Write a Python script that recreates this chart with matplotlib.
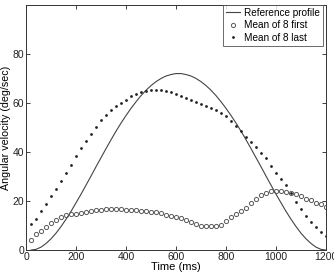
import matplotlib
matplotlib.use('Agg')
import matplotlib.pyplot as plt

plt.rcParams['font.family'] = ['Liberation Sans', 'DejaVu Sans']

# time axis (ms), one sample every 20 ms
time_ms = list(range(20, 1201, 20))

# reference (minimum jerk like) profile
reference = [0.0, 0.3, 1.2, 2.7, 4.6, 6.9, 9.6, 12.6, 15.8, 19.3,
             22.8, 26.5, 30.2, 34.0, 37.7, 41.4, 45.0, 48.5, 51.8, 54.9,
             57.8, 60.5, 63.0, 65.2, 67.1, 68.7, 70.0, 71.0, 71.6, 72.0,
             72.0, 71.6, 71.0, 70.0, 68.7, 67.1, 65.2, 63.0, 60.5, 57.8,
             54.9, 51.8, 48.5, 45.0, 41.4, 37.7, 34.0, 30.2, 26.5, 22.8,
             19.3, 15.8, 12.6, 9.6, 6.9, 4.6, 2.7, 1.2, 0.3, 0.0]

# mean of the first 8 trials (open circles)
mean_first = [4.2, 6.4, 7.9, 9.4, 11.0, 12.2, 13.6, 14.5, 14.8, 14.9,
              15.1, 15.4, 15.9, 16.3, 16.5, 16.7, 16.7, 16.7, 16.7, 16.5,
              16.5, 16.4, 16.1, 16.0, 15.7, 15.4, 15.0, 14.5, 14.0, 13.5,
              12.9, 12.2, 11.4, 10.6, 10.0, 9.9, 9.9, 9.8, 10.3, 11.7,
              13.3, 14.6, 15.8, 17.2, 19.0, 20.7, 22.4, 23.3, 24.0, 24.1,
              24.0, 23.6, 23.3, 22.8, 22.0, 21.0, 20.3, 19.4, 18.7, 17.6]

# mean of the last 8 trials (filled dots)
mean_last = [10.7, 12.7, 16.1, 18.9, 21.9, 25.1, 28.3, 31.6, 34.9, 38.2,
             41.5, 44.4, 47.5, 50.3, 52.9, 55.2, 57.0, 58.6, 60.1, 61.4,
             62.8, 63.7, 64.4, 65.0, 65.1, 65.1, 65.2, 65.0, 64.3, 63.6,
             62.9, 62.1, 61.4, 60.5, 59.7, 58.7, 57.9, 57.1, 55.9, 54.8,
             52.8, 50.8, 48.5, 46.1, 43.9, 41.9, 39.7, 37.4, 34.4, 31.6,
             28.8, 26.4, 23.3, 19.7, 16.7, 14.0, 11.3, 9.5, 7.5, 5.6]

xticks = [0, 200, 400, 600, 800, 1000, 1200]
yticks = [0, 20, 40, 60, 80]

fig = plt.figure(figsize=(3.34, 2.73), dpi=100)
ax = fig.add_axes([0.078, 0.084, 0.898, 0.898])

ax.plot(time_ms, reference, '-', color='#444444', linewidth=0.8, label='Reference profile')
ax.plot(time_ms, mean_first, 'o', markersize=3.0, markerfacecolor='none',
        markeredgecolor='#5a5a5a', markeredgewidth=0.7, label='Mean of 8 first')
ax.plot(time_ms, mean_last, 'o', markersize=2.0, color='#222222',
        markeredgewidth=0, label='Mean of 8 last')

ax.set_xlim(0, 1200)
ax.set_ylim(0, 100)
ax.set_xticks(xticks)
ax.set_yticks(yticks)
ax.tick_params(direction='in', top=True, right=True, length=3, width=0.6,
               labelsize=7.5, pad=1.5, colors='#222222')
for s in ax.spines.values():
    s.set_linewidth(0.7)
    s.set_color('#333333')

ax.set_xlabel('Time (ms)', fontsize=8, labelpad=0)
ax.set_ylabel('Angular velocity (deg/sec)', fontsize=7.7, labelpad=1)

leg = ax.legend(loc='upper right', fontsize=7.2, numpoints=1, handlelength=1.4,
                handletextpad=0.4, borderpad=0.3, labelspacing=0.25,
                borderaxespad=0.0, bbox_to_anchor=(0.99, 1.0), fancybox=False)
leg.get_frame().set_edgecolor('#444444')
leg.get_frame().set_linewidth(0.7)

fig.savefig('out.png', dpi=100)
